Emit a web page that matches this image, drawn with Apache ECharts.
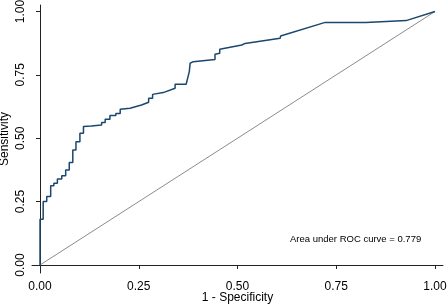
<!DOCTYPE html>
<html>
<head>
<meta charset="utf-8">
<script src="https://cdn.jsdelivr.net/npm/echarts@6/dist/echarts.min.js"></script>
<style>
  html, body { margin: 0; padding: 0; background: #fff; }
  #chart { width: 447px; height: 306px; }
</style>
</head>
<body>
<div id="chart"></div>
<script>
// ROC curve points (1 - specificity, sensitivity)
const fpr = [0, 0, 0.008, 0.008, 0.017, 0.017, 0.027, 0.027, 0.035, 0.035, 0.044, 0.044,
  0.055, 0.055, 0.065, 0.065, 0.074, 0.074, 0.083, 0.083, 0.091, 0.091, 0.101, 0.101,
  0.110, 0.110, 0.130, 0.156, 0.156, 0.165, 0.165, 0.177, 0.177, 0.192, 0.192, 0.203,
  0.203, 0.228, 0.257, 0.257, 0.262, 0.275, 0.275, 0.285, 0.285, 0.312, 0.342, 0.342,
  0.370, 0.378, 0.380, 0.388, 0.443, 0.443, 0.446, 0.455, 0.455, 0.511, 0.519, 0.608,
  0.609, 0.722, 0.825, 0.829, 0.927, 1.0];
const tpr = [0, 0.18, 0.18, 0.25, 0.25, 0.27, 0.27, 0.313, 0.313, 0.322, 0.322, 0.339,
  0.339, 0.352, 0.352, 0.375, 0.375, 0.404, 0.404, 0.454, 0.454, 0.486, 0.486, 0.52,
  0.52, 0.546, 0.548, 0.552, 0.562, 0.562, 0.575, 0.575, 0.59, 0.59, 0.598, 0.598,
  0.614, 0.618, 0.631, 0.638, 0.638, 0.642, 0.658, 0.658, 0.673, 0.68, 0.697, 0.713,
  0.713, 0.763, 0.796, 0.802, 0.811, 0.831, 0.831, 0.835, 0.851, 0.868, 0.874, 0.894,
  0.903, 0.957, 0.957, 0.964, 0.964, 1.0];
const tickVals = [0, 0.25, 0.5, 0.75, 1];
const aucText = 'Area under ROC curve = 0.779';

const rocPoints = fpr.map((x, i) => [x, tpr[i]]);
const chart = echarts.init(document.getElementById('chart'));

const axisCommon = {
  type: 'value',
  axisLine: { show: true, lineStyle: { color: '#222', width: 1 } },
  axisTick: { show: true, length: 4, customValues: tickVals, lineStyle: { color: '#222' } },
  axisLabel: {
    customValues: tickVals,
    color: '#000',
    fontFamily: 'Liberation Sans',
    fontSize: 12,
    formatter: v => v.toFixed(2)
  },
  splitLine: { show: false },
  nameLocation: 'middle',
  nameMoveOverlap: false,
  nameTextStyle: { color: '#000', fontFamily: 'Liberation Sans', fontSize: 12 }
};

chart.setOption({
  animation: false,
  backgroundColor: '#fff',
  // fixed plot box, labels sit outside it
  grid: { left: 32, right: 4, top: 5, bottom: 33, containLabel: false, outerBoundsMode: 'none' },
  xAxis: Object.assign({}, axisCommon, {
    min: -0.0203,
    max: 1.0203,
    name: '1 - Specificity',
    nameGap: 19,
    axisLabel: Object.assign({}, axisCommon.axisLabel, { margin: 8 })
  }),
  yAxis: Object.assign({}, axisCommon, {
    min: -0.0316,
    max: 1.0256,
    name: 'Sensitivity',
    nameGap: 21,
    axisLabel: Object.assign({}, axisCommon.axisLabel, { rotate: 90, margin: 5 })
  }),
  series: [
    {
      type: 'line',
      data: [[0, 0], [1, 1]],
      showSymbol: false,
      lineStyle: { color: '#8c8c8c', width: 1 }
    },
    {
      type: 'line',
      data: rocPoints,
      showSymbol: false,
      lineStyle: { color: '#1a476f', width: 1.5 }
    }
  ],
  graphic: [{
    type: 'text',
    left: 290,
    top: 234,
    style: { text: aucText, fill: '#000', font: '9.5px "Liberation Sans"' }
  }]
});
</script>
</body>
</html>
